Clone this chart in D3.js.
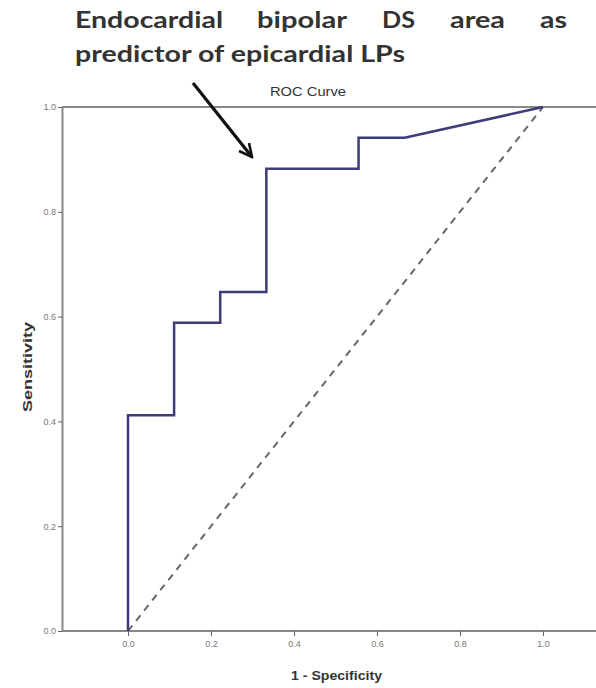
<!DOCTYPE html>
<html>
<head>
  <title>ROC Curve</title>
  <script src="https://cdn.jsdelivr.net/npm/d3@7"></script>
  <style>
    body { margin: 0; background: #fff; }
  </style>
</head>
<body>
  <div id="chart"></div>
  <script>
    // ROC curve points (1 - specificity, sensitivity)
    const fpr = [0, 0, 1/9, 1/9, 2/9, 2/9, 3/9, 3/9, 5/9, 5/9, 6/9, 1]
    const tpr = [0, 7/17, 7/17, 10/17, 10/17, 11/17, 11/17, 15/17, 15/17, 16/17, 16/17, 1]
    const refLine = [0, 1]
    const xTicks = [0, 0.2, 0.4, 0.6, 0.8, 1.0]
    const yTicks = [0, 0.2, 0.4, 0.6, 0.8, 1.0]
    const titleLines = ["Endocardial bipolar DS area as", "predictor of epicardial LPs"]

    const width = 596
    const height = 688

    const svg = d3.select("#chart")
      .append("svg")
      .attr("width", width)
      .attr("height", height)

    const x = d3.scaleLinear().domain([0, 1]).range([128, 543])
    const y = d3.scaleLinear().domain([0, 1]).range([631, 107])

    const axFont = "'Liberation Sans', Arial, sans-serif"

    // frame: top line at 1.0
    svg.append("line")
      .attr("x1", 62).attr("x2", width)
      .attr("y1", y(1)).attr("y2", y(1))
      .style("stroke", "#888").style("stroke-width", 2)

    // y axis
    const yAxis = svg.append("g")
      .attr("transform", "translate(62,0)")
      .call(d3.axisLeft(y).tickValues(yTicks).tickFormat(d3.format(".1f")).tickSize(4).tickSizeOuter(0))
    yAxis.select(".domain").style("stroke", "#888").style("stroke-width", 2)
    yAxis.selectAll(".tick line").style("stroke", "#666")
    yAxis.selectAll("text")
      .style("font-family", axFont).style("font-size", "9px").style("fill", "#777")
      .attr("x", -6)

    // x axis
    const xAxis = svg.append("g")
      .attr("transform", `translate(0,${y(0)})`)
      .call(d3.axisBottom(x).tickValues(xTicks).tickFormat(d3.format(".1f")).tickSize(5).tickSizeOuter(0))
    xAxis.select(".domain").attr("d", `M62,0H${width}`).style("stroke", "#888").style("stroke-width", 2)
    xAxis.selectAll(".tick line").style("stroke", "#666")
    xAxis.selectAll("text")
      .style("font-family", axFont).style("font-size", "9px").style("fill", "#777")
      .attr("y", 10)

    // reference diagonal
    svg.append("line")
      .attr("x1", x(refLine[0])).attr("y1", y(refLine[0]))
      .attr("x2", x(refLine[1])).attr("y2", y(refLine[1]))
      .style("stroke", "#666").style("stroke-width", 2)
      .style("stroke-dasharray", "7,6")

    // ROC curve
    const line = d3.line().x(d => x(d[0])).y(d => y(d[1]))
    svg.append("path")
      .datum(fpr.map((f, i) => [f, tpr[i]]))
      .attr("d", line)
      .style("fill", "none")
      .style("stroke", "#3d3b78")
      .style("stroke-width", 2.5)

    // chart title
    svg.append("text")
      .attr("x", 270).attr("y", 96)
      .attr("textLength", 76).attr("lengthAdjust", "spacingAndGlyphs")
      .style("font-family", axFont).style("font-size", "13px").style("fill", "#333")
      .text("ROC Curve")

    // axis titles
    svg.append("text")
      .attr("x", 291).attr("y", 680)
      .attr("textLength", 91).attr("lengthAdjust", "spacingAndGlyphs")
      .style("font-family", axFont).style("font-size", "12px").style("font-weight", "bold").style("fill", "#333")
      .text("1 - Specificity")

    svg.append("text")
      .attr("transform", "translate(32,412) rotate(-90)")
      .attr("textLength", 90).attr("lengthAdjust", "spacingAndGlyphs")
      .style("font-family", axFont).style("font-size", "12px").style("font-weight", "bold").style("fill", "#333")
      .text("Sensitivity")

    // annotation text (first line justified)
    const annFont = "Lato, 'Open Sans', sans-serif"
    const words = titleLines[0].split(" ")
    const wordX = [75, 257, 382, 450, 540]
    const wordW = [148, 90, 33, 55, 27]
    words.forEach((w, i) => {
      svg.append("text")
        .attr("x", wordX[i]).attr("y", 28)
        .attr("textLength", wordW[i]).attr("lengthAdjust", "spacingAndGlyphs")
        .style("font-family", annFont).style("font-size", "22px").style("font-weight", "bold").style("fill", "#333")
        .text(w)
    })
    svg.append("text")
      .attr("x", 75).attr("y", 62)
      .attr("textLength", 330).attr("lengthAdjust", "spacingAndGlyphs")
      .style("font-family", annFont).style("font-size", "22px").style("font-weight", "bold").style("fill", "#333")
      .text(titleLines[1])

    // arrow
    svg.append("defs").append("marker")
      .attr("id", "arrow")
      .attr("viewBox", "0 0 10 10")
      .attr("refX", 9).attr("refY", 5)
      .attr("markerWidth", 5).attr("markerHeight", 5)
      .attr("orient", "auto")
      .append("path")
      .attr("d", "M1,1 L9,5 L1,9")
      .style("fill", "none").style("stroke", "#111").style("stroke-width", 1.6)

    svg.append("line")
      .attr("x1", 193).attr("y1", 83)
      .attr("x2", 252).attr("y2", 157)
      .style("stroke", "#111").style("stroke-width", 3.2)
      .attr("marker-end", "url(#arrow)")
  </script>
</body>
</html>
